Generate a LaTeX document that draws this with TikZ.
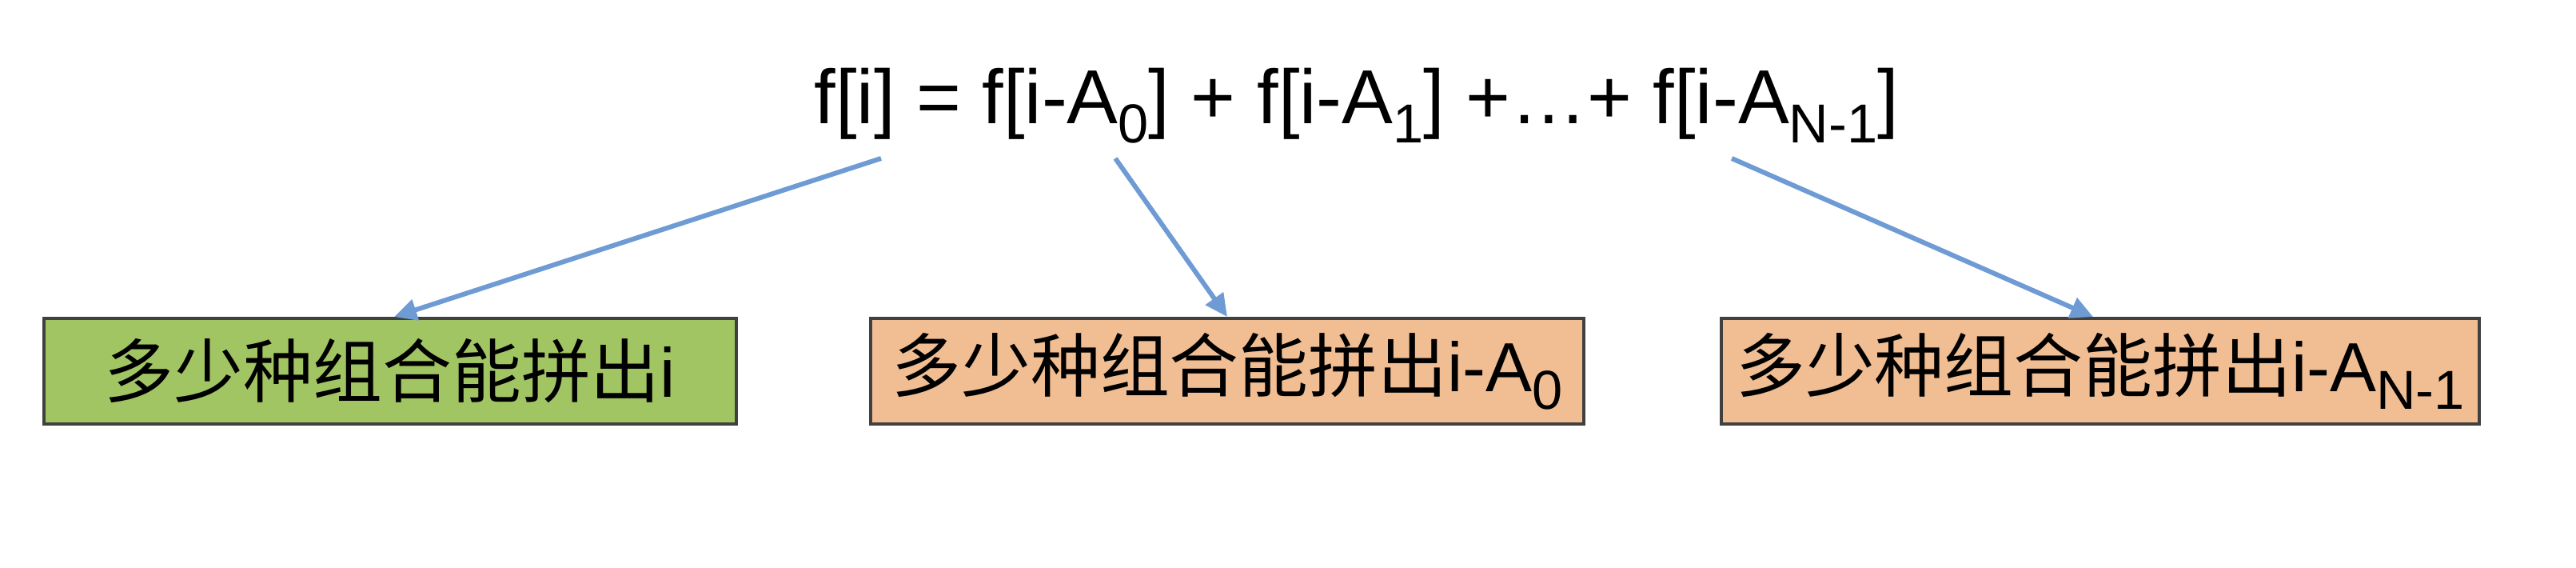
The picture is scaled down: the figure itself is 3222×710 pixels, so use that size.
\documentclass[tikz,border=0pt]{standalone}
\usepackage{fontspec}
\setmainfont{Liberation Sans}
\newfontfamily\cjk{Noto Sans CJK SC}
\usetikzlibrary{arrows.meta}
\definecolor{arrowblue}{HTML}{6E9BD3}
\definecolor{boxgreen}{HTML}{A2C563}
\definecolor{boxorange}{HTML}{F1BE93}
\definecolor{boxedge}{HTML}{404040}
\newcommand{\subs}[1]{\raisebox{-0.25em}{\fontsize{19.5}{19.5}\selectfont #1}}
\begin{document}
\begin{tikzpicture}[x=0.01cm,y=-0.01cm,
  formula/.style={inner sep=0pt,anchor=base west,font=\fontsize{27.2}{27}\selectfont},
  answerbox/.style={draw=boxedge,line width=1.1pt,inner sep=0pt,minimum height=132*0.01cm,
    font=\fontsize{24.7}{25}\selectfont},
  link/.style={draw=arrowblue,line width=1.7pt,-{Triangle[length=8pt,width=7.5pt]}}]
\useasboundingbox (0,0) rectangle (3222,710);
\node[formula] (eq) at (1018,155) {f[i] = f[i-A\subs{0}] + f[i-A\subs{1}] +\ldots+ f[i-A\subs{N-1}]};
\node[answerbox,fill=boxgreen,minimum width=866*0.01cm] (b1) at (488,464) {{\cjk 多少种组合能拼出}i};
\node[answerbox,fill=boxorange,minimum width=892*0.01cm] (b2) at (1535,464) {{\cjk 多少种组合能拼出}i-A\subs{0}};
\node[answerbox,fill=boxorange,minimum width=948*0.01cm] (b3) at (2627,464) {{\cjk 多少种组合能拼出}i-A\subs{N-1}};
\coordinate (s1) at (1102,198);
\coordinate (s2) at (1395,198);
\coordinate (s3) at (2166,198);
\draw[link] (s1) -- ([xshift=5*0.01cm]b1.north);
\draw[link] (s2) -- (b2.north);
\draw[link] (s3) -- ([xshift=-9*0.01cm]b3.north);
\end{tikzpicture}
\end{document}
